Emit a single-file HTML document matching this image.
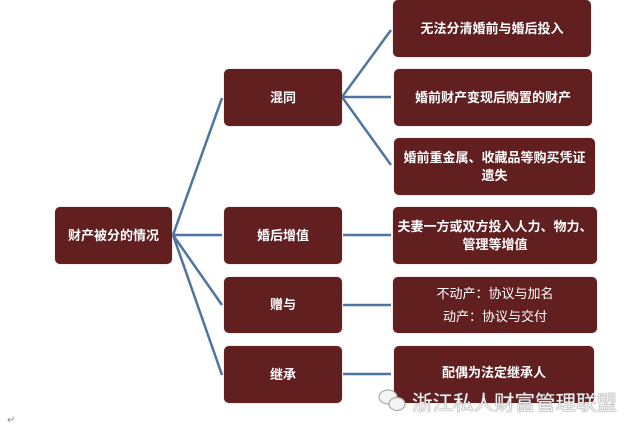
<!DOCTYPE html>
<html><head><meta charset="utf-8"><style>
body{margin:0;width:640px;height:434px;background:#fff;position:relative;overflow:hidden;font-family:"Liberation Sans","Noto Sans CJK SC",sans-serif}
.b{position:absolute;background:#611f20;border-radius:5px;color:#fff;font-weight:bold;font-size:13px;display:flex;align-items:center;justify-content:center;text-align:center;line-height:18px;box-shadow:0 0 1px #b88}
svg{position:absolute;left:0;top:0}
</style></head><body>
<svg width="640" height="434"><g stroke="#4f74a0" stroke-width="2.5" fill="none">
<line x1="173" y1="235" x2="222" y2="98"/>
<line x1="173" y1="235" x2="222" y2="235"/>
<line x1="173" y1="235" x2="222" y2="305"/>
<line x1="173" y1="235" x2="222" y2="375"/>
<line x1="342" y1="97" x2="391" y2="30"/>
<line x1="342" y1="97" x2="391" y2="97"/>
<line x1="342" y1="97" x2="391" y2="165"/>
<line x1="343" y1="235" x2="391" y2="235"/>
<line x1="343" y1="305" x2="391" y2="305"/>
<line x1="343" y1="374" x2="391" y2="374"/>
</g></svg>
<div class="b" style="left:55px;top:207px;width:117px;height:57px">财产被分的情况</div>
<div class="b" style="left:224px;top:69px;width:118px;height:57px">混同</div>
<div class="b" style="left:224px;top:207px;width:118px;height:57px">婚后增值</div>
<div class="b" style="left:224px;top:277px;width:118px;height:56px">赠与</div>
<div class="b" style="left:224px;top:346px;width:118px;height:57px">继承</div>
<div class="b" style="left:393px;top:0;width:198px;height:57px">无法分清婚前与婚后投入</div>
<div class="b" style="left:394px;top:69px;width:198px;height:57px">婚前财产变现后购置的财产</div>
<div class="b" style="left:394px;top:138px;width:201px;height:57px">婚前重金属、收藏品等购买凭证<br>遗失</div>
<div class="b" style="left:393px;top:207px;width:204px;height:57px">夫妻一方或双方投入人力、物力、<br>管理等增值</div>
<div class="b" style="left:393px;top:277px;width:204px;height:56px;line-height:23px;font-weight:normal">不动产：协议与加名<br>动产：协议与交付</div>
<div class="b" style="left:394px;top:346px;width:200px;height:57px;align-items:flex-start"><span style="margin-top:18px">配偶为法定继承人</span></div>
<svg width="640" height="434"><g fill="#f4f4f4" stroke="#aaa" stroke-width="1.2">
<ellipse cx="388" cy="397" rx="9" ry="7"/>
<ellipse cx="397" cy="404" rx="8" ry="6.5"/>
</g></svg>
<div style="position:absolute;left:412px;top:387px;font-size:20.5px;color:#f2f2f2;text-shadow:0 0 1px #777,0 0 1px #777;font-family:'Noto Sans CJK SC',sans-serif;line-height:28px;white-space:nowrap">浙江私人财富管理联盟</div>
<div style="position:absolute;left:7px;top:415px;font-size:10px;color:#888">↵</div>
</body></html>
